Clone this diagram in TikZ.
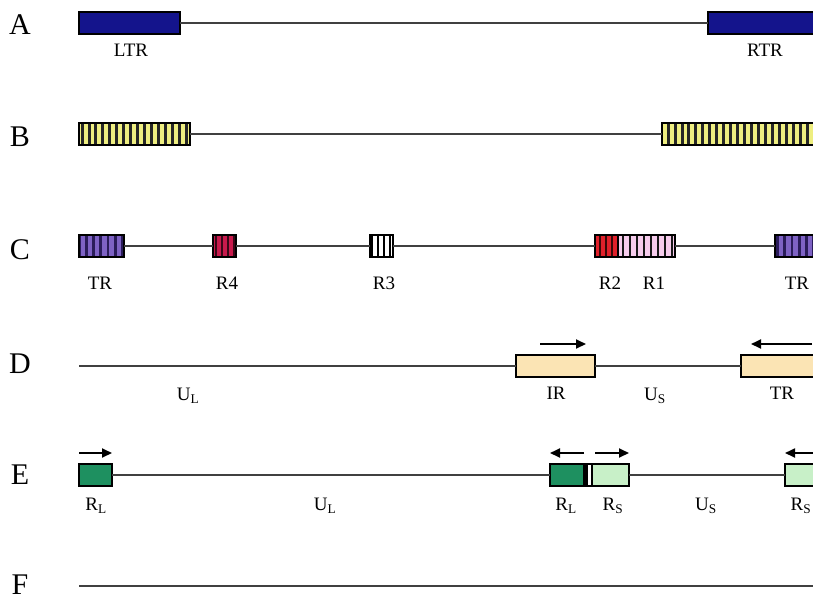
\documentclass[tikz,border=0pt]{standalone}
\usepackage{fontspec}
\setmainfont{Liberation Serif}
\usetikzlibrary{patterns.meta,arrows.meta}
\definecolor{ltrblue}{HTML}{14148C}
\definecolor{pyellow}{HTML}{EEEE80}
\definecolor{tpurple}{HTML}{7E62C4}
\definecolor{tpurpled}{HTML}{2A1C5A}
\definecolor{crimson}{HTML}{C81A4C}
\definecolor{crimsond}{HTML}{3A0818}
\definecolor{rred}{HTML}{E0202A}
\definecolor{rredd}{HTML}{3A0808}
\definecolor{rpink}{HTML}{F6CCEC}
\definecolor{peach}{HTML}{FBE4B4}
\definecolor{dgreen}{HTML}{1E9060}
\definecolor{lgreen}{HTML}{C8F0C8}
\definecolor{strandgray}{HTML}{404040}
\tikzset{
  box/.style={draw=black, line width=1.2pt, anchor=north west, inner sep=0pt, outer sep=0pt, minimum height=22pt},
  striped/.style n args={4}{preaction={fill=#1}, pattern={Lines[angle=90,distance=#3,line width=#4]}, pattern color=#2},
  strand/.style={line width=1.4pt, draw=strandgray},
  lbl/.style={font=\fontsize{19}{21}\selectfont, inner sep=0pt},
  rowlbl/.style={font=\fontsize{30}{32}\selectfont, inner sep=0pt},
  dirarrow/.style={line width=1.8pt, -{Triangle[length=10pt,width=9pt]}},
}
\begin{document}
\begin{tikzpicture}[x=1pt,y=-1pt]
\useasboundingbox (0,0) rectangle (813,600);
% row letters
\node[rowlbl] (rA) at (20,25) {A};
\node[rowlbl] (rB) at (20,137) {B};
\node[rowlbl] (rC) at (20,250) {C};
\node[rowlbl] (rD) at (20,364) {D};
\node[rowlbl] (rE) at (20,475) {E};
\node[rowlbl] (rF) at (20,585) {F};

% ---- A ----
\node[box, fill=ltrblue, minimum width=101pt] (LTR) at (79,12) {};
\node[box, fill=ltrblue, minimum width=120pt] (RTR) at (708,12) {};
\draw[strand] (LTR.east) -- (RTR.west);
\node[lbl] (lLTR) at (131,50) {LTR};
\node[lbl] (lRTR) at (765,50) {RTR};

% ---- B ----
\node[box, striped={pyellow}{black!85}{6.9pt}{2.8pt}, minimum width=111pt] (BL) at (79,123) {};
\node[box, striped={pyellow}{black!85}{6.9pt}{2.8pt}, minimum width=170pt] (BR) at (662,123) {};
\draw[strand] (BL.east) -- (BR.west);

% ---- C ----
\node[box, striped={tpurple}{tpurpled}{7.2pt}{2.8pt}, minimum width=45pt] (CTRL) at (79,235) {};
\node[box, striped={crimson}{crimsond}{6pt}{2.4pt}, minimum width=23pt] (CR4) at (213,235) {};
\node[box, striped={white}{black}{6pt}{2.4pt}, minimum width=23pt] (CR3) at (370,235) {};
\node[box, striped={rred}{rredd}{6pt}{2.4pt}, minimum width=23pt] (CR2) at (595,235) {};
\node[box, striped={rpink}{black!90}{7pt}{2pt}, minimum width=57pt] (CR1) at (618,235) {};
\node[box, striped={tpurple}{tpurpled}{7.2pt}{2.8pt}, minimum width=60pt] (CTRR) at (775,235) {};
\draw[strand] (CTRL.east) -- (CR4.west);
\draw[strand] (CR4.east) -- (CR3.west);
\draw[strand] (CR3.east) -- (CR2.west);
\draw[strand] (CR1.east) -- (CTRR.west);
\node[lbl] (lCTRL) at (100,283) {TR};
\node[lbl] (lCR4) at (227,283) {R4};
\node[lbl] (lCR3) at (384,283) {R3};
\node[lbl] (lCR2) at (610,283) {R2};
\node[lbl] (lCR1) at (654,283) {R1};
\node[lbl] (lCTRR) at (797,283) {TR};

% ---- D ----
\coordinate (Dstart) at (79,366);
\node[box, fill=peach, minimum width=79pt] (DIR) at (516,355) {};
\node[box, fill=peach, minimum width=90pt] (DTR) at (741,355) {};
\draw[strand] (Dstart) -- (DIR.west);
\draw[strand] (DIR.east) -- (DTR.west);
\coordinate (DIRa) at (540,344);
\coordinate (DIRb) at (586,344);
\coordinate (DTRa) at (812,344);
\coordinate (DTRb) at (751,344);
\draw[dirarrow] (DIRa) -- (DIRb);
\draw[dirarrow] (DTRa) -- (DTRb);
\node[lbl] (lDUL) at (188,396) {U\textsubscript{L}};
\node[lbl] (lDIR) at (556,393) {IR};
\node[lbl] (lDUS) at (655,396) {U\textsubscript{S}};
\node[lbl] (lDTR) at (782,393) {TR};

% ---- E ----
\node[box, fill=dgreen, minimum width=33pt] (ERL) at (79,464) {};
\node[box, fill=dgreen, minimum width=42pt] (EmidL) at (550,464) {};
\fill[black] (583,464) rectangle (587.5,486);
\fill[white] (587.5,464.6) rectangle (592,485.4);
\node[box, fill=lgreen, minimum width=37pt] (EmidR) at (592,464) {};
\node[box, fill=lgreen, minimum width=60pt] (ERS) at (785,464) {};
\draw[strand] (ERL.east) -- (EmidL.west);
\draw[strand] (EmidR.east) -- (ERS.west);
\coordinate (E1a) at (79,453);
\coordinate (E1b) at (112,453);
\coordinate (E2a) at (584,453);
\coordinate (E2b) at (550,453);
\coordinate (E3a) at (595,453);
\coordinate (E3b) at (629,453);
\coordinate (E4a) at (814,453);
\coordinate (E4b) at (785,453);
\draw[dirarrow] (E1a) -- (E1b);
\draw[dirarrow] (E2a) -- (E2b);
\draw[dirarrow] (E3a) -- (E3b);
\draw[dirarrow] (E4a) -- (E4b);
\node[lbl] (lERL) at (96,506) {R\textsubscript{L}};
\node[lbl] (lEUL) at (325,506) {U\textsubscript{L}};
\node[lbl] (lEmidL) at (566,506) {R\textsubscript{L}};
\node[lbl] (lEmidR) at (613,506) {R\textsubscript{S}};
\node[lbl] (lEUS) at (706,506) {U\textsubscript{S}};
\node[lbl] (lERS) at (801,506) {R\textsubscript{S}};

% ---- F ----
\coordinate (Fa) at (79,586);
\coordinate (Fb) at (814,586);
\draw[strand] (Fa) -- (Fb);
\end{tikzpicture}
\end{document}
